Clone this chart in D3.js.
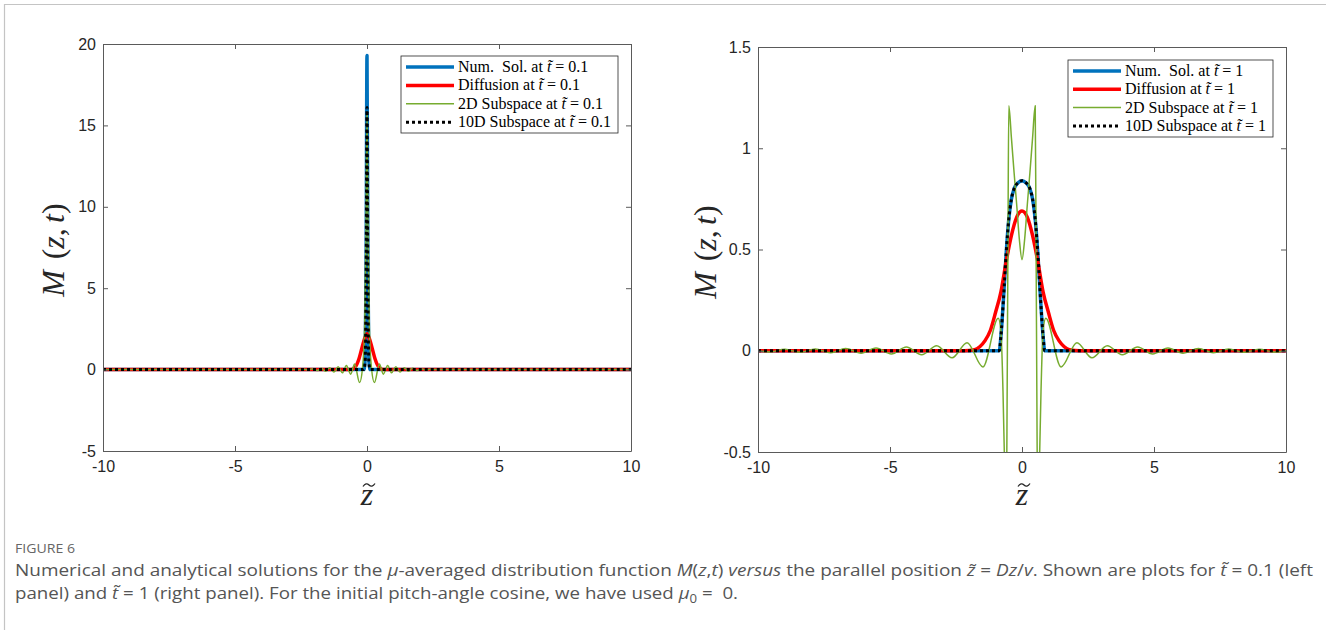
<!DOCTYPE html>
<html><head><meta charset="utf-8">
<script src="https://cdn.jsdelivr.net/npm/d3@7"></script>
<style>body{margin:0;background:#fff} svg{display:block}</style>
</head><body>
<svg id="c" width="1326" height="630"></svg>
<script>
// ---------- tick values / labels ----------
const xTicks = [-10, -5, 0, 5, 10];
const xTickLabels = ["-10", "-5", "0", "5", "10"];
const yTicksL = [-5, 0, 5, 10, 15, 20];
const yTickLabelsL = ["-5", "0", "5", "10", "15", "20"];
const yTicksR = [-0.5, 0, 0.5, 1, 1.5];
const yTickLabelsR = ["-0.5", "0", "0.5", "1", "1.5"];
const seriesNames = ["Num.  Sol. at ", "Diffusion at ", "2D Subspace at ", "10D Subspace at "];
const timeLabels = ["0.1", "1"];

// ---------- left panel, t = 0.1 ----------
const numZ1 = [-10, -0.12, -0.07, -0.035, 0, 0.035, 0.07, 0.12, 10];
const numM1 = [0, 0, 0.6, 6, 19.3, 6, 0.6, 0, 0];
const diffZ1 = [-10, -0.6, -0.5, -0.4, -0.3, -0.2, -0.1, 0, 0.1, 0.2, 0.3, 0.4, 0.5, 0.6, 10];
const diffM1 = [0, 0, 0.07, 0.27, 0.68, 1.28, 1.86, 2.2, 1.86, 1.28, 0.68, 0.27, 0.07, 0, 0];
const sub2Z1 = [-10, -2.6, -2.37, -2.21, -2.05, -1.89, -1.73, -1.57, -1.41, -1.25, -1.09, -0.93, -0.78, -0.62, -0.47, -0.28, -0.17, -0.09, -0.04, 0,
                0.04, 0.09, 0.17, 0.28, 0.47, 0.62, 0.78, 0.93, 1.09, 1.25, 1.41, 1.57, 1.73, 1.89, 2.05, 2.21, 2.37, 2.6, 10];
const sub2M1 = [0, 0, 0.02, -0.03, 0.05, -0.06, 0.08, -0.1, 0.12, -0.15, 0.18, -0.2, 0.25, -0.28, 0.35, -0.8, 0.1, 2.5, 8, 15.8,
                8, 2.5, 0.1, -0.8, 0.35, -0.28, 0.25, -0.2, 0.18, -0.15, 0.12, -0.1, 0.08, -0.06, 0.05, -0.03, 0.02, 0, 0];
const sub10Z1 = [-10, -0.12, -0.07, -0.035, 0, 0.035, 0.07, 0.12, 10];
const sub10M1 = [0, 0, 0.5, 5, 16.1, 5, 0.5, 0, 0];

// ---------- right panel, t = 1 ----------
const numZ2 = [-10, -0.86, -0.8, -0.7, -0.6, -0.5, -0.4, -0.3, -0.15, 0, 0.15, 0.3, 0.4, 0.5, 0.6, 0.7, 0.8, 0.86, 10];
const numM2 = [0, 0, 0.07, 0.26, 0.48, 0.65, 0.75, 0.8, 0.83, 0.84, 0.83, 0.8, 0.75, 0.65, 0.48, 0.26, 0.07, 0, 0];
const diffZ2 = [-10, -2.2, -1.8, -1.6, -1.4, -1.2, -1.0, -0.8, -0.6, -0.4, -0.2, 0, 0.2, 0.4, 0.6, 0.8, 1.0, 1.2, 1.4, 1.6, 1.8, 2.2, 10];
const diffM2 = [0, 0, 0.005, 0.02, 0.05, 0.1, 0.19, 0.29, 0.44, 0.57, 0.66, 0.69, 0.66, 0.57, 0.44, 0.29, 0.19, 0.1, 0.05, 0.02, 0.005, 0, 0];
const sub2Z2 = [-10, -9.55, -8.98, -8.4, -7.83, -7.25, -6.68, -6.1, -5.53, -4.95, -4.38, -3.8, -3.23, -2.65, -2.08, -1.48, -0.9, -0.8, -0.72, -0.67, -0.61, -0.57, -0.53, -0.5, -0.4, -0.3, -0.2, -0.1, 0,
                0.1, 0.2, 0.3, 0.4, 0.5, 0.53, 0.57, 0.61, 0.67, 0.72, 0.8, 0.9, 1.48, 2.08, 2.65, 3.23, 3.8, 4.38, 4.95, 5.53, 6.1, 6.68, 7.25, 7.83, 8.4, 8.98, 9.55, 10];
const sub2M2 = [0, -0.006, 0.007, -0.008, 0.009, -0.01, 0.011, -0.012, 0.014, -0.016, 0.018, -0.02, 0.025, -0.035, 0.04, -0.08, 0.16, 0.1, -0.2, -0.5, -1.0, -0.4, 0.6, 1.21, 1.05, 0.88, 0.72, 0.55, 0.45,
                0.55, 0.72, 0.88, 1.05, 1.21, 0.6, -0.4, -1.0, -0.5, -0.2, 0.1, 0.16, -0.08, 0.04, -0.035, 0.025, -0.02, 0.018, -0.016, 0.014, -0.012, 0.011, -0.01, 0.009, -0.008, 0.007, -0.006, 0];
const sub10Z2 = [-10, -0.86, -0.8, -0.7, -0.6, -0.5, -0.4, -0.3, -0.15, 0, 0.15, 0.3, 0.4, 0.5, 0.6, 0.7, 0.8, 0.86, 10];
const sub10M2 = [0, 0, 0.07, 0.26, 0.48, 0.65, 0.75, 0.8, 0.83, 0.84, 0.83, 0.8, 0.75, 0.65, 0.48, 0.26, 0.07, 0, 0];

// ---------- styles ----------
const BLUE = "#0072BD", RED = "#FF0000", GREEN = "#77AC30", BLACK = "#000000";
const AX = "#5a5a5a", TXT = "#262626";
const SERIF = "Liberation Serif, DejaVu Serif, serif";

const svg = d3.select("#c");
// outer frame
svg.append("line").attr("x1", 4).attr("y1", 4.5).attr("x2", 1326).attr("y2", 4.5).attr("stroke", "#c4c4c4").attr("stroke-width", 1.2);
svg.append("line").attr("x1", 4.5).attr("y1", 4).attr("x2", 4.5).attr("y2", 630).attr("stroke", "#c4c4c4").attr("stroke-width", 1.2);

function drawPanel(p) {
  const x = d3.scaleLinear().domain([-10, 10]).range([p.x0, p.x1]);
  const y = d3.scaleLinear().domain(p.yDom).range([p.yb, p.yt]);
  const g = svg.append("g");
  g.append("clipPath").attr("id", "clip" + p.id).append("rect")
    .attr("x", p.x0).attr("y", p.yt).attr("width", p.x1 - p.x0).attr("height", p.yb - p.yt);
  const line = d3.line().x(d => x(d[0])).y(d => y(d[1])).curve(d3.curveMonotoneX);
  const lg = g.append("g").attr("clip-path", `url(#clip${p.id})`);
  p.series.forEach(s => {
    lg.append("path").datum(d3.zip(s.z, s.m)).attr("d", line)
      .attr("fill", "none").attr("stroke", s.color).attr("stroke-width", s.w)
      .attr("stroke-dasharray", s.dash || null).attr("stroke-linejoin", "round");
  });
  // axes
  const fmtX = (d, i) => xTickLabels[i];
  const fmtY = (d, i) => p.yLabels[i];
  const axB = g.append("g").attr("transform", `translate(0,${p.yb})`)
    .call(d3.axisBottom(x).tickValues(xTicks).tickFormat(fmtX).tickSizeInner(-5).tickSizeOuter(0).tickPadding(10));
  const axT = g.append("g").attr("transform", `translate(0,${p.yt})`)
    .call(d3.axisTop(x).tickValues(xTicks).tickFormat("").tickSizeInner(-5).tickSizeOuter(0));
  const axL = g.append("g").attr("transform", `translate(${p.x0},0)`)
    .call(d3.axisLeft(y).tickValues(p.yTicks).tickFormat(fmtY).tickSizeInner(-5).tickSizeOuter(0).tickPadding(7));
  const axR = g.append("g").attr("transform", `translate(${p.x1},0)`)
    .call(d3.axisRight(y).tickValues(p.yTicks).tickFormat("").tickSizeInner(-5).tickSizeOuter(0));
  [axB, axT, axL, axR].forEach(a => {
    a.select(".domain").attr("stroke", AX).attr("stroke-width", 1);
    a.selectAll(".tick line").attr("stroke", AX).attr("stroke-width", 1);
    a.selectAll("text").attr("fill", TXT).attr("font-family", "Liberation Sans, Arial, sans-serif").attr("font-size", 16);
  });
  // y title
  const cx = (p.x0 + p.x1) / 2;
  const yt = g.append("text").attr("transform", `translate(${p.ylx},${p.yly}) rotate(-90)`)
    .attr("text-anchor", "middle").attr("font-family", SERIF).attr("font-size", 32).attr("fill", TXT);
  yt.append("tspan").attr("font-style", "italic").text("M");
  yt.append("tspan").text("\u2004(");
  yt.append("tspan").attr("font-style", "italic").text("z");
  yt.append("tspan").text(",\u2006");
  yt.append("tspan").attr("font-style", "italic").text("t");
  yt.append("tspan").text(")");
  // x title: italic z with a tilde accent
  g.append("text").attr("x", cx).attr("y", 505).attr("text-anchor", "middle")
    .attr("font-family", SERIF).attr("font-style", "italic").attr("font-size", 32).attr("fill", TXT).text("z");
  const tx = cx + 2, ty = 485;
  g.append("path")
    .attr("d", `M${tx - 6},${ty + 1.5} Q${tx - 3},${ty - 3} ${tx},${ty} T${tx + 6},${ty - 1.5}`)
    .attr("fill", "none").attr("stroke", TXT).attr("stroke-width", 1.3);
  // legend
  const L = p.leg;
  g.append("rect").attr("x", L.x).attr("y", L.y).attr("width", L.w).attr("height", L.h)
    .attr("fill", "#fff").attr("stroke", "#262626").attr("stroke-width", 0.8);
  p.series.forEach((s, i) => {
    const ry = L.y + L.r0 + i * L.dr;
    g.append("line").attr("x1", L.x + 5).attr("x2", L.x + 53).attr("y1", ry).attr("y2", ry)
      .attr("stroke", s.color).attr("stroke-width", s.w).attr("stroke-dasharray", s.dash || null);
    const t = g.append("text").attr("x", L.x + 57).attr("y", ry + 5)
      .attr("font-family", SERIF).attr("font-size", 16).attr("fill", "#000")
      .style("white-space", "pre");
    t.append("tspan").text(seriesNames[i]);
    t.append("tspan").attr("font-style", "italic").text("t\u0303");
    t.append("tspan").text(" = " + p.tl);
  });
}

drawPanel({
  id: "L", x0: 103, x1: 631, yb: 451, yt: 44, yDom: [-5, 20], yTicks: yTicksL, yLabels: yTickLabelsL,
  ylx: 64, yly: 250, tl: timeLabels[0],
  leg: { x: 401, y: 56, w: 217, h: 77, r0: 11, dr: 18.4 },
  series: [
    { z: numZ1, m: numM1, color: BLUE, w: 3.5 },
    { z: diffZ1, m: diffM1, color: RED, w: 3.5 },
    { z: sub2Z1, m: sub2M1, color: GREEN, w: 1.5 },
    { z: sub10Z1, m: sub10M1, color: BLACK, w: 3, dash: "3,3" }
  ]
});
drawPanel({
  id: "R", x0: 758, x1: 1286, yb: 452, yt: 47, yDom: [-0.5, 1.5], yTicks: yTicksR, yLabels: yTickLabelsR,
  ylx: 716, yly: 252, tl: timeLabels[1],
  leg: { x: 1068, y: 60, w: 205, h: 77, r0: 11, dr: 18.3 },
  series: [
    { z: numZ2, m: numM2, color: BLUE, w: 3.5 },
    { z: diffZ2, m: diffM2, color: RED, w: 3.5 },
    { z: sub2Z2, m: sub2M2, color: GREEN, w: 1.5 },
    { z: sub10Z2, m: sub10M2, color: BLACK, w: 3, dash: "3,3" }
  ]
});

// ---------- caption ----------
const capFont = "Open Sans, Lato, sans-serif";
svg.append("text").attr("x", 15).attr("y", 553).attr("font-family", capFont).attr("font-size", 13)
  .attr("fill", "#666").attr("textLength", 60).attr("lengthAdjust", "spacingAndGlyphs").text("FIGURE 6");
function capLine(y, len, parts) {
  const t = svg.append("text").attr("x", 15).attr("y", y).attr("font-family", capFont).attr("font-size", 17)
    .attr("fill", "#555").attr("textLength", len).attr("lengthAdjust", "spacingAndGlyphs").style("white-space", "pre");
  parts.forEach(pt => {
    const ts = t.append("tspan").text(pt[0]);
    if (pt[1] === "i") ts.attr("font-style", "italic");
    if (pt[1] === "sub") ts.attr("font-size", 12).attr("dy", 4);
    if (pt[1] === "up") ts.attr("dy", -4);
  });
}
capLine(576, 1298, [
  ["Numerical and analytical solutions for the "], ["\u03BC", "i"], ["-averaged distribution function "],
  ["M", "i"], ["("], ["z", "i"], [","], ["t", "i"], [") "], ["versus", "i"], [" the parallel position "],
  ["z\u0303", "i"], [" = "], ["Dz", "i"], ["/"], ["v", "i"], [". Shown are plots for "], ["t\u0303", "i"], [" = 0.1 (left"]
]);
capLine(599, 723, [
  ["panel) and "], ["t\u0303", "i"], [" = 1 (right panel). For the initial pitch-angle cosine, we have used "],
  ["\u03BC", "i"], ["0", "sub"], [" =  0.", "up"]
]);
</script>
</body></html>
